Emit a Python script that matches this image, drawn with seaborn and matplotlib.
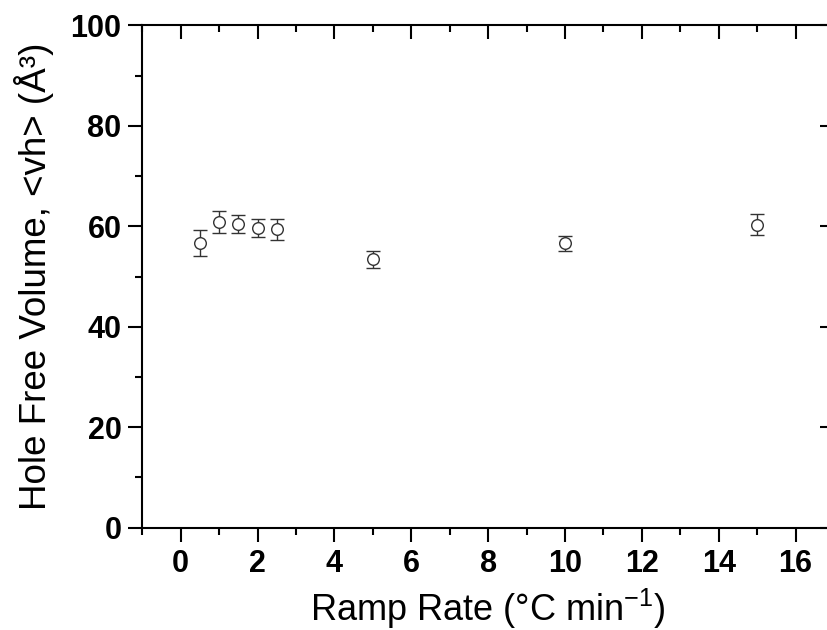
import numpy as np
import pandas as pd
import matplotlib
matplotlib.use('Agg')
import matplotlib.pyplot as plt
from matplotlib.ticker import MultipleLocator
import seaborn as sns

# data
ramp_rate = [0.5, 1.0, 1.5, 2.0, 2.5, 5.0, 10.0, 15.0]
hole_volume = [56.7, 60.8, 60.5, 59.7, 59.4, 53.4, 56.6, 60.3]
volume_err = [2.65, 2.2, 1.8, 1.8, 2.1, 1.75, 1.5, 2.05]

df = pd.DataFrame({'rate': ramp_rate, 'vh': hole_volume, 'err': volume_err})

sns.set_style('white')
plt.rcParams['font.family'] = ['Liberation Sans', 'DejaVu Sans']
plt.rcParams['mathtext.fontset'] = 'custom'
plt.rcParams['mathtext.rm'] = 'Liberation Sans'
plt.rcParams['mathtext.it'] = 'Liberation Sans:italic'
plt.rcParams['mathtext.bf'] = 'Liberation Sans:bold'
plt.rcParams['text.color'] = 'black'
plt.rcParams['axes.labelcolor'] = 'black'
plt.rcParams['xtick.color'] = 'black'
plt.rcParams['ytick.color'] = 'black'

fig = plt.figure(figsize=(8.27, 6.3), dpi=100)
ax = fig.add_axes([0.172, 0.1624, 0.8364, 0.7974])

ax.errorbar(df['rate'], df['vh'], yerr=df['err'], fmt='none',
            ecolor='#333333', elinewidth=1.0, capsize=5, capthick=1.0, zorder=2)
sns.scatterplot(data=df, x='rate', y='vh', ax=ax, marker='o', s=70,
                facecolor='white', edgecolor='#333333', linewidth=1.0, zorder=3)

ax.set_xlim(-1, 17)
ax.set_ylim(0, 100)
ax.xaxis.set_major_locator(MultipleLocator(2))
ax.xaxis.set_minor_locator(MultipleLocator(1))
ax.yaxis.set_major_locator(MultipleLocator(20))
ax.yaxis.set_minor_locator(MultipleLocator(10))

for side in ['left', 'right', 'top', 'bottom']:
    ax.spines[side].set_visible(True)
    ax.spines[side].set_color('black')
    ax.spines[side].set_linewidth(1.5)

ax.tick_params(which='both', direction='out', bottom=True, left=True,
               top=False, right=False, color='black', labelcolor='black', width=1.5)
ax.tick_params(which='major', length=10, labelsize=22, pad=5)
ax.tick_params(which='minor', length=5)

# mirrored ticks pointing inwards on top and right
sec_x = ax.secondary_xaxis('top')
sec_x.xaxis.set_major_locator(MultipleLocator(2))
sec_x.xaxis.set_minor_locator(MultipleLocator(1))
sec_x.tick_params(which='both', direction='in', top=True, labeltop=False, width=1.5)
sec_x.tick_params(which='major', length=10)
sec_x.tick_params(which='minor', length=5)
sec_y = ax.secondary_yaxis('right')
sec_y.yaxis.set_major_locator(MultipleLocator(20))
sec_y.yaxis.set_minor_locator(MultipleLocator(10))
sec_y.tick_params(which='both', direction='in', right=True, labelright=False, width=1.5)
sec_y.tick_params(which='major', length=10)
sec_y.tick_params(which='minor', length=5)
for s in [sec_x, sec_y]:
    for sp in s.spines.values():
        sp.set_visible(False)

for lab in ax.get_xticklabels() + ax.get_yticklabels():
    lab.set_fontweight('bold')

ax.set_xlabel('Ramp Rate (°C min$^{-1}$)', fontsize=26, labelpad=6)
ax.set_ylabel('Hole Free Volume, <vh> (Å³)', fontsize=26.5, labelpad=12)

fig.savefig('out.png', dpi=100)
